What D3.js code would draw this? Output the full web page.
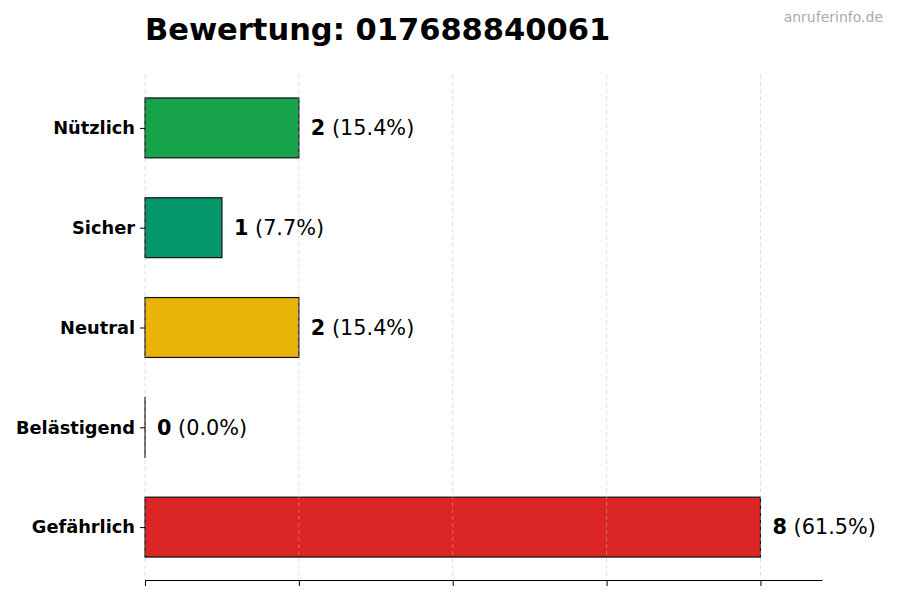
<!DOCTYPE html>
<html>
<head>
<meta charset="utf-8">
<script src="https://cdn.jsdelivr.net/npm/d3@7"></script>
<style>
	body { margin: 0; background: #fff; }
	text { font-family: "DejaVu Sans", sans-serif; }
</style>
</head>
<body>
<script>
var categories = ["Nützlich", "Sicher", "Neutral", "Belästigend", "Gefährlich"];
var counts = [2, 1, 2, 0, 8];
var percents = ["15.4%", "7.7%", "15.4%", "0.0%", "61.5%"];
var colors = ["#16a34a", "#059669", "#eab308", "#dc2626", "#dc2626"];
var xTicks = [0, 2, 4, 6, 8];

var w = 900, h = 600;
var plotLeft = 145, plotRight = 822, plotTop = 75, plotBottom = 580;

var svg = d3.select("body")
	.append("svg")
	.attr("width", w)
	.attr("height", h);

var x = d3.scaleLinear()
	.domain([0, 8.8])
	.range([plotLeft, plotRight]);

// index 0 at the top, matplotlib-like margins
var y = d3.scaleLinear()
	.domain([-0.53, 4.53])
	.range([plotTop, plotBottom]);

var barH = y(0.6) - y(0);

// bars (a zero bar still shows its edge)
svg.selectAll(".bar")
	.data(counts)
	.enter()
	.append("rect")
	.attr("class", "bar")
	.attr("x", x(0))
	.attr("y", function(d, i){ return y(i - 0.3); })
	.attr("width", function(d){ return Math.max(x(d) - x(0), 0.05); })
	.attr("height", barH)
	.style("fill", function(d, i){ return colors[i]; })
	.style("stroke", "#111")
	.style("stroke-width", 1.2);

// grid, drawn faintly over the bars
svg.selectAll(".grid")
	.data(xTicks)
	.enter()
	.append("line")
	.attr("class", "grid")
	.attr("x1", function(d){ return x(d); })
	.attr("x2", function(d){ return x(d); })
	.attr("y1", plotTop)
	.attr("y2", plotBottom)
	.style("stroke", "#bbb")
	.style("stroke-opacity", 0.6)
	.style("stroke-dasharray", "4,3")
	.style("stroke-width", 0.8);

// bottom axis, no labels
var xAxis = d3.axisBottom(x)
	.tickValues(xTicks)
	.tickSize(6)
	.tickFormat("")
	.tickSizeOuter(0);

var gx = svg.append("g")
	.attr("transform", "translate(0," + plotBottom + ")")
	.call(xAxis);
gx.select(".domain").style("stroke", "#000").style("stroke-width", 1.2);
gx.selectAll(".tick line").style("stroke", "#000").style("stroke-width", 1);

// y ticks and category labels
var yAxis = d3.axisLeft(y)
	.tickValues(d3.range(categories.length))
	.tickSize(5)
	.tickPadding(5)
	.tickFormat(function(d){ return categories[d]; });

var gy = svg.append("g")
	.attr("transform", "translate(" + plotLeft + ",0)")
	.call(yAxis);
gy.select(".domain").remove();
gy.selectAll(".tick line").style("stroke", "#000");
gy.selectAll(".tick text")
	.style("font-family", "'DejaVu Sans', sans-serif")
	.style("font-size", "17.8px")
	.style("font-weight", "bold")
	.style("fill", "#000");

// value labels
var labels = svg.selectAll(".vlabel")
	.data(counts)
	.enter()
	.append("text")
	.attr("class", "vlabel")
	.attr("x", function(d){ return x(d) + 12; })
	.attr("y", function(d, i){ return y(i); })
	.attr("dy", "0.35em")
	.style("font-size", "20.8px")
	.style("fill", "#000");

labels.append("tspan")
	.style("font-weight", "bold")
	.text(function(d){ return d; });

labels.append("tspan")
	.text(function(d, i){ return " (" + percents[i] + ")"; });

// title
svg.append("text")
	.attr("x", plotLeft)
	.attr("y", 40)
	.style("font-size", "30.5px")
	.style("font-weight", "bold")
	.style("fill", "#000")
	.text("Bewertung: 017688840061");

// watermark
svg.append("text")
	.attr("x", 883)
	.attr("y", 22)
	.attr("text-anchor", "end")
	.style("font-size", "14px")
	.style("fill", "#aaa")
	.text("anruferinfo.de");
</script>
</body>
</html>
